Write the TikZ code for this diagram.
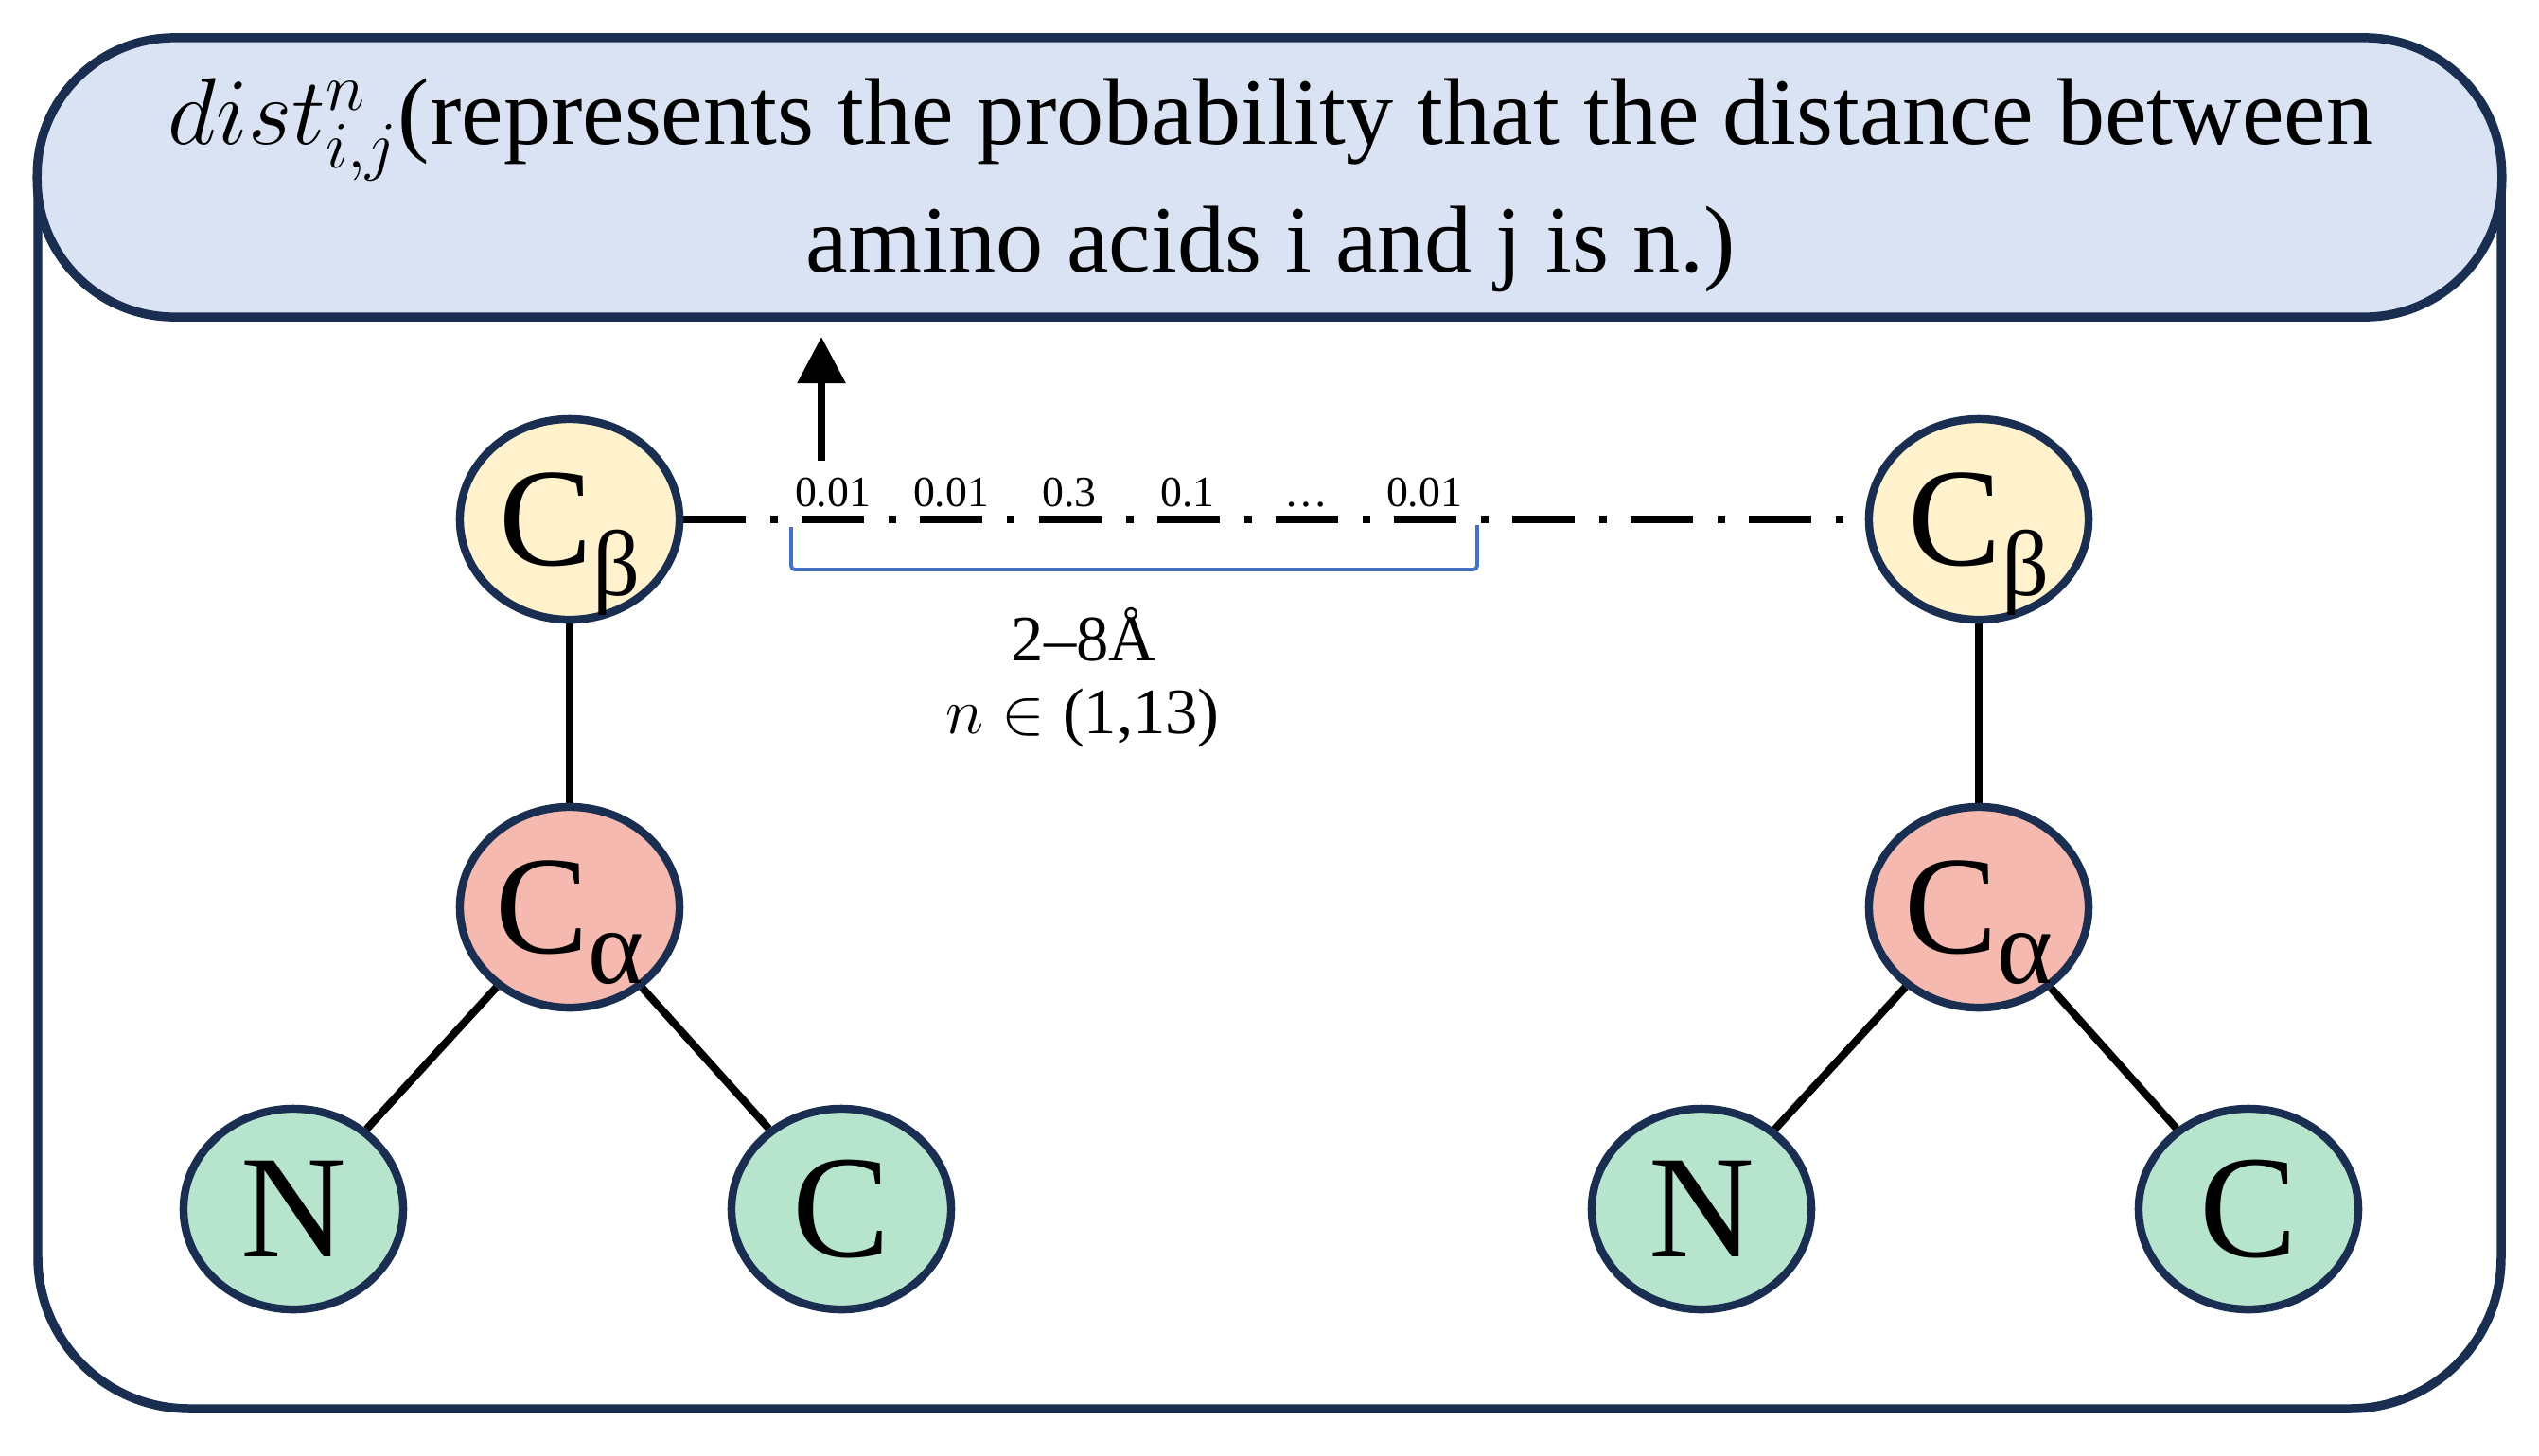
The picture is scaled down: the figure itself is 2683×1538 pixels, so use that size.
\documentclass[tikz,border=0pt]{standalone}
\usepackage{fix-cm}
\usepackage{fontspec}
\setmainfont{Liberation Serif}
\usetikzlibrary{shapes.geometric,arrows.meta}
\definecolor{navy}{HTML}{1A2E52}
\definecolor{hdrfill}{HTML}{DAE3F3}
\definecolor{cbfill}{HTML}{FFF2CC}
\definecolor{cafill}{HTML}{F5B9AF}
\definecolor{bbfill}{HTML}{B6E4CD}
\definecolor{brblue}{HTML}{4472C4}
\pgfdeclarelayer{bg}
\pgfsetlayers{bg,main}
\newcommand{\Catom}[2]{\fontsize{42}{42}\selectfont C\smash{\raisebox{-0.22em}{\fontsize{#2}{#2}\selectfont #1}}}
\begin{document}
\begin{tikzpicture}[x=0.01cm,y=-0.01cm,
  atom/.style={ellipse, draw=navy, line width=2.4pt, minimum width=2.32cm, minimum height=2.12cm, inner sep=0pt},
  cbatom/.style={atom, fill=cbfill},
  caatom/.style={atom, fill=cafill},
  bbatom/.style={atom, fill=bbfill, font=\fontsize{44}{44}\selectfont},
  header/.style={draw=navy, fill=hdrfill, line width=2.7pt, rounded corners=1.45cm, minimum width=26.03cm, minimum height=2.95cm, inner sep=0pt},
  hdrtext/.style={align=center, inner sep=0pt, font=\fontsize{28.5}{38.5}\selectfont},
  frame/.style={draw=navy, line width=2.7pt, rounded corners=1.6cm},
  bond/.style={draw=black, line width=2.3pt},
  distline/.style={draw=black, line width=2.1pt, dash pattern=on 0.66cm off 0.26cm on 0.08cm off 0.25cm},
  prob/.style={font=\fontsize{13}{13}\selectfont, anchor=base, inner sep=0pt},
  rng/.style={font=\fontsize{19.5}{20}\selectfont, anchor=base, inner sep=0pt},
  bracket/.style={draw=brblue, line width=1.1pt, rounded corners=0.04cm},
  arr/.style={draw=black, line width=2.5pt, -{Triangle[length=0.49cm,width=0.49cm]}}
]
\useasboundingbox (0,0) rectangle (2683,1538);
% outer frame
\draw[frame] (40,45) rectangle (2643,1489);
% header
\node[header] (hdr) at (1341.5,187.5) {};
\node[hdrtext] (hdrtxt) at (1343,196) {$dist^{n}_{i,j}$(represents the probability that the distance between\\amino acids i and j is n.)};
% left residue
\node[cbatom] (cb1) at (602,549) {\Catom{β}{28}};
\node[caatom] (ca1) at (602,959) {\Catom{α}{32}};
\node[bbatom] (n1) at (310,1278) {N};
\node[bbatom] (c1) at (889,1278) {C};
% right residue
\node[cbatom] (cb2) at (2091,549) {\Catom{β}{28}};
\node[caatom] (ca2) at (2091,959) {\Catom{α}{32}};
\node[bbatom] (n2) at (1798,1278) {N};
\node[bbatom] (c2) at (2376,1278) {C};
% probabilities
\node[prob] (p1) at (880,535) {0.01};
\node[prob] (p2) at (1005,535) {0.01};
\node[prob] (p3) at (1130,535) {0.3};
\node[prob] (p4) at (1255,535) {0.1};
\node[prob] (p5) at (1380,535) {…};
\node[prob] (p6) at (1505,535) {0.01};
% range text
\node[rng] (rg) at (1145,698) {2–8Å};
\node[rng] (nr) at (1144,775) {$n\in{}$(1,13)};
% bracket
\draw[bracket] (836,557) -- (836,602) -- (1561,602) -- (1561,555);
% arrow
\coordinate (afoot) at (868,487);
\coordinate (atip) at (868,356);
\draw[arr] (afoot) -- (atip);
% connectors
\begin{pgfonlayer}{bg}
\draw[bond] (cb1) -- (ca1);
\draw[bond] (ca1) -- (n1);
\draw[bond] (ca1) -- (c1);
\draw[bond] (cb2) -- (ca2);
\draw[bond] (ca2) -- (n2);
\draw[bond] (ca2) -- (c2);
\draw[distline] (cb1) -- (cb2);
\end{pgfonlayer}
\end{tikzpicture}
\end{document}
